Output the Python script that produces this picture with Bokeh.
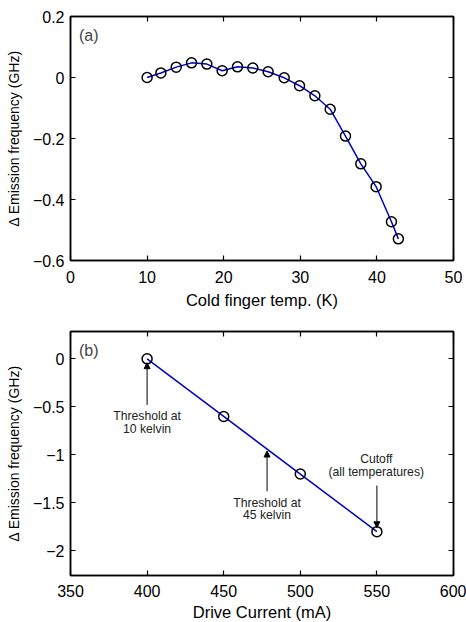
from bokeh.plotting import figure
from bokeh.layouts import column
from bokeh.models import LinearAxis, Label, Arrow, NormalHead, Range1d, FixedTicker, CustomJSTickFormatter
from bokeh.embed import file_html
from bokeh.resources import INLINE

# Panel (a)
temp_k = [10, 11.8, 13.8, 15.8, 17.8, 19.8, 21.8, 23.8, 25.8, 27.9, 29.9, 31.9, 33.9, 35.9, 37.9, 39.9, 41.9, 42.8]
shift_a = [0.0, 0.015, 0.034, 0.048, 0.044, 0.022, 0.035, 0.031, 0.019, -0.001, -0.027, -0.060, -0.104, -0.192, -0.283, -0.358, -0.473, -0.529]
xticks_a = [0, 10, 20, 30, 40, 50]
yticks_a = [-0.6, -0.4, -0.2, 0, 0.2]

# Panel (b)
current_ma = [400, 450, 500, 550]
shift_b = [0.0, -0.6, -1.2, -1.8]
xticks_b = [350, 400, 450, 500, 550, 600]
yticks_b = [-2, -1.5, -1, -0.5, 0]

FONT = "Liberation Sans"
BLUE = "#0000cc"


def mirror_axis(ticks):
    return LinearAxis(ticker=FixedTicker(ticks=ticks),
                      formatter=CustomJSTickFormatter(code="return ''"),
                      major_label_standoff=0, major_tick_in=5, major_tick_out=0,
                      minor_tick_in=0, minor_tick_out=0, axis_line_width=1.5,
                      major_tick_line_width=1.2)


def style(p, xt, yt, xstand, xlabstand):
    for ax in p.xaxis + p.yaxis:
        ax.major_tick_in = 5
        ax.major_tick_out = 0
        ax.minor_tick_in = 0
        ax.minor_tick_out = 0
        ax.axis_line_color = "black"
        ax.axis_line_width = 1.5
        ax.major_tick_line_width = 1.2
        ax.major_label_text_font = FONT
        ax.major_label_text_font_size = "16px"
        ax.major_label_text_color = "black"
        ax.axis_label_text_font = FONT
        ax.axis_label_text_font_style = "normal"
        ax.axis_label_text_color = "black"
    p.xaxis.axis_label_text_font_size = "16.5px"
    p.yaxis.axis_label_text_font_size = "14px"
    p.xaxis.ticker = FixedTicker(ticks=xt)
    p.yaxis.ticker = FixedTicker(ticks=yt)
    p.xaxis.major_label_standoff = xstand
    p.yaxis.major_label_standoff = 6
    p.xaxis.axis_label_standoff = xlabstand
    p.yaxis.axis_label_standoff = 8
    p.add_layout(mirror_axis(xt), "above")
    p.add_layout(mirror_axis(yt), "right")
    p.grid.visible = False
    p.outline_line_color = "black"
    p.outline_line_width = 1.5
    p.background_fill_color = "white"
    p.border_fill_color = "white"


pa = figure(frame_width=383, frame_height=244, output_backend="svg", toolbar_location=None,
            x_range=Range1d(0, 50), y_range=Range1d(-0.6, 0.2),
            min_border_left=70, min_border_right=13, min_border_top=16, min_border_bottom=50,
            x_axis_label="Cold finger temp. (K)", y_axis_label="\u0394 Emission frequency (GHz)")
style(pa, xticks_a, yticks_a, 10, 5)
pa.line(temp_k, shift_a, line_color=BLUE, line_width=1.5)
pa.scatter(temp_k, shift_a, marker="circle", size=10, fill_color=None, line_color="black", line_width=1.5)
pa.add_layout(Label(x=1.1, y=0.165, text="(a)", text_font=FONT, text_font_size="16px",
                    text_baseline="top", text_align="left"))

pb = figure(frame_width=383, frame_height=244, output_backend="svg", toolbar_location=None,
            x_range=Range1d(350, 600), y_range=Range1d(-2.257, 0.285),
            min_border_left=70, min_border_right=13, min_border_top=20, min_border_bottom=46,
            x_axis_label="Drive Current (mA)", y_axis_label="\u0394 Emission frequency (GHz)")
style(pb, xticks_b, yticks_b, 9, 3)
pb.line(current_ma, shift_b, line_color=BLUE, line_width=1.5)
pb.scatter(current_ma, shift_b, marker="circle", size=10, fill_color=None, line_color="black", line_width=1.5)
pb.add_layout(Label(x=355.5, y=0.18, text="(b)", text_font=FONT, text_font_size="16px",
                    text_baseline="top", text_align="left"))

ann_font = "12.2px"
notes = [
    (400, -0.60, "Threshold at"), (400, -0.73, "10 kelvin"),
    (478.3, -1.50, "Threshold at"), (478.3, -1.63, "45 kelvin"),
    (549.6, -1.045, "Cutoff"), (549.6, -1.18, "(all temperatures)"),
]
for x, y, t in notes:
    pb.add_layout(Label(x=x, y=y, text=t, text_font=FONT, text_font_size=ann_font,
                        text_align="center", text_baseline="middle", text_color="#222222"))

arrows = [(400, -0.48, 400, -0.04), (478.3, -1.38, 478.3, -0.96), (550, -1.32, 550, -1.76)]
for x0, y0, x1, y1 in arrows:
    pb.add_layout(Arrow(x_start=x0, y_start=y0, x_end=x1, y_end=y1, line_width=1,
                        line_color="black",
                        end=NormalHead(size=6, fill_color="black", line_color="black")))

layout = column(pa, pb, spacing=0)
open("out.html", "w").write(file_html(layout, INLINE))
